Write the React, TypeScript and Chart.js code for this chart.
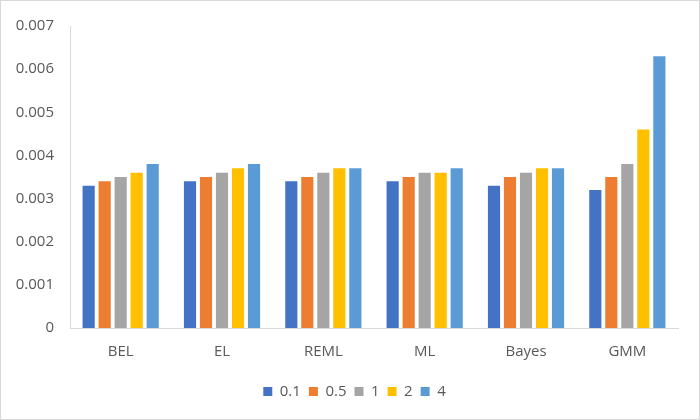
import React, { useEffect, useRef } from "react";
import { Chart, registerables } from "chart.js";

Chart.register(...registerables);

const categories = ["BEL", "EL", "REML", "ML", "Bayes", "GMM"];
const seriesLabels = ["0.1", "0.5", "1", "2", "4"];
const s01 = [0.0033, 0.0034, 0.0034, 0.0034, 0.0033, 0.0032];
const s05 = [0.0034, 0.0035, 0.0035, 0.0035, 0.0035, 0.0035];
const s1 = [0.0035, 0.0036, 0.0036, 0.0036, 0.0036, 0.0038];
const s2 = [0.0036, 0.0037, 0.0037, 0.0036, 0.0037, 0.0046];
const s4 = [0.0038, 0.0038, 0.0037, 0.0037, 0.0037, 0.0063];
const colors = ["#4472C4", "#ED7D31", "#A5A5A5", "#FFC000", "#5B9BD5"];

const FONT = "'Open Sans', sans-serif";

const legendShift = {
  id: "legendShift",
  afterLayout(chart: any) {
    const lg = chart.legend;
    if (lg) {
      lg.left += 15;
      lg.right += 15;
    }
  },
};

export default function App() {
  const ref = useRef<HTMLCanvasElement | null>(null);
  useEffect(() => {
    document.body.style.margin = "0";
    const values = [s01, s05, s1, s2, s4];
    const chart = new Chart(ref.current!, {
      type: "bar",
      data: {
        labels: categories,
        datasets: values.map((v, i) => ({
          label: seriesLabels[i],
          data: v,
          backgroundColor: colors[i],
          borderWidth: 0,
          barPercentage: 0.76,
          categoryPercentage: 0.79,
        })),
      },
      plugins: [legendShift],
      options: {
        animation: false,
        responsive: false,
        maintainAspectRatio: false,
        layout: { padding: { top: 13, right: 21, left: 0, bottom: 10 } },
        plugins: {
          tooltip: { enabled: false },
          legend: {
            position: "bottom",
            labels: {
              boxWidth: 9,
              boxHeight: 9,
              padding: 8,
              color: "#595959",
              font: { family: FONT, size: 15 },
            },
          },
        },
        scales: {
          x: {
            grid: { display: false, drawTicks: false },
            border: { display: true, color: "#D9D9D9", width: 1 },
            ticks: {
              color: "#595959",
              padding: 15,
              font: { family: FONT, size: 15 },
            },
            afterFit: (s: any) => { s.height = 48; },
          },
          y: {
            min: 0,
            max: 0.007,
            grid: { display: false, drawTicks: false },
            border: { display: true, color: "#D9D9D9", width: 1 },
            ticks: {
              stepSize: 0.001,
              color: "#595959",
              padding: 16,
              font: { family: FONT, size: 15 },
              callback: (v: any) => (Number(v) === 0 ? "0" : Number(v).toFixed(3)),
            },
            afterFit: (s: any) => { s.width = 69; },
          },
        },
      },
    });
    return () => chart.destroy();
  }, []);
  return (
    <div
      style={{
        position: "absolute",
        left: 0,
        top: 0,
        width: 700,
        height: 420,
        border: "1px solid #D9D9D9",
        boxSizing: "border-box",
        background: "#fff",
      }}
    >
      <canvas ref={ref} width={698} height={418} style={{ display: "block" }} />
    </div>
  );
}
